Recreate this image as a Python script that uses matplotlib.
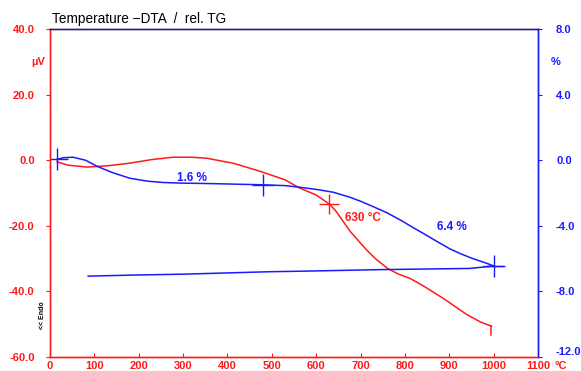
import numpy as np
import matplotlib
matplotlib.use("Agg")
import matplotlib.pyplot as plt

plt.rcParams["font.family"] = ["Liberation Sans", "DejaVu Sans"]

RED = "#ff1a1a"
BLUE = "#1a1aff"
NAVY = "#22227a"

# DTA heating curve (temperature in °C, signal in µV)
dta_t = [16, 40, 83, 130, 180, 230, 277, 320, 353, 412, 473, 530, 563, 600, 630,
         645, 676, 700, 714, 735, 761, 785, 811, 840, 885, 939, 970, 995]
dta_uv = [-0.5, -1.5, -2.1, -1.7, -0.9, 0.2, 0.9, 0.9, 0.6, -0.9, -3.35, -6.0, -8.5,
          -10.6, -13.4, -15.6, -21.6, -25.3, -27.4, -30.2, -33.0, -34.7, -36.0,
          -38.2, -42.0, -47.0, -49.3, -50.6]

# TG heating curve (temperature in °C, mass change in %)
tg_t = [16, 30, 52, 80, 106, 140, 180, 220, 255, 300, 350, 400, 480, 530, 563,
        600, 638, 675, 700, 730, 759, 790, 818, 850, 875, 901, 925, 953, 975, 991,
        1000]
tg_pct = [0.05, 0.15, 0.18, 0.0, -0.37, -0.75, -1.1, -1.28, -1.36, -1.40, -1.42,
          -1.45, -1.5, -1.55, -1.65, -1.78, -1.95, -2.25, -2.5, -2.85, -3.2, -3.65,
          -4.1, -4.6, -5.0, -5.4, -5.7, -6.0, -6.2, -6.35, -6.45]

# TG cooling curve
cool_t = [86, 195, 300, 495, 563, 750, 946, 975, 1000]
cool_pct = [-7.07, -7.0, -6.95, -6.8, -6.77, -6.67, -6.6, -6.52, -6.45]

# evaluation markers
tg_marks_t = [16, 480, 1000]
tg_marks_pct = [0.05, -1.5, -6.45]
dta_peak_t = 630
dta_peak_uv = -13.4

fig = plt.figure(figsize=(5.81, 3.71), dpi=100)
ax = fig.add_axes([50 / 581, 14 / 371, 488 / 581, 328 / 371])
ax2 = ax.twinx()

ax.plot(dta_t, dta_uv, color=RED, lw=1.1)
ax.plot([dta_t[-1], dta_t[-1]], [dta_uv[-1], -53.2], color=RED, lw=1.1)
ax.plot(dta_peak_t, dta_peak_uv, marker="+", ms=15, mew=1.0, color=RED)
ax.text(665, -17.7, "630 °C", color=RED, fontsize=8.5, fontweight="bold",
        va="center")

ax2.plot(tg_t, tg_pct, color=BLUE, lw=1.1)
ax2.plot(cool_t, cool_pct, color=BLUE, lw=1.1)
ax2.plot(tg_marks_t, tg_marks_pct, ls="none", marker="+", ms=16, mew=1.0, color=BLUE)
ax2.plot([985, 1020], [-6.45, -6.45], color=BLUE, lw=1.0)
ax2.text(320, -1.1, "1.6 %", color=BLUE, fontsize=8.5, fontweight="bold",
         ha="center", va="center")
ax2.text(906, -4.08, "6.4 %", color=BLUE, fontsize=8.5, fontweight="bold",
         ha="center", va="center")

ax.set_xlim(0, 1100)
ax.set_ylim(-60, 40)
ax2.set_ylim(-12, 8)
ax.set_xticks(range(0, 1101, 100))
ax.set_yticks(range(-60, 41, 20))
ax2.set_yticks(range(-12, 9, 4))
ax.set_yticklabels([f"{v:.1f}" for v in range(-60, 41, 20)])
ax2.set_yticklabels([f"{v:.1f}" for v in range(-12, 9, 4)])

for a in (ax, ax2):
    for s in a.spines.values():
        s.set_linewidth(1.0)
    a.spines["left"].set_color(RED)
    a.spines["bottom"].set_color(RED)
    a.spines["right"].set_color(BLUE)
    a.spines["top"].set_color(NAVY)

ax.tick_params(axis="x", colors=RED, direction="in", length=3, labelsize=8, pad=3)
ax.tick_params(axis="y", colors=RED, direction="out", length=3, labelsize=8, pad=8)
ax2.tick_params(axis="y", colors=BLUE, direction="out", length=3, labelsize=8, pad=10)
for lbl in ax.get_xticklabels() + ax.get_yticklabels() + ax2.get_yticklabels():
    lbl.set_fontweight("bold")
ax2.get_yticklabels()[0].set_va("bottom")

fig.text(38 / 581, 1 - 62 / 371, "µV", color=RED, fontsize=8, fontweight="bold",
         ha="center", va="center")
fig.text(556 / 581, 1 - 62 / 371, "%", color=BLUE, fontsize=8, fontweight="bold",
         ha="center", va="center")
fig.text(561 / 581, 1 - 366 / 371, "°C", color=RED, fontsize=8, fontweight="bold",
         ha="center", va="center")
fig.text(52 / 581, 1 - 19 / 371, "Temperature \u2212DTA  /  rel. TG", color="black",
         fontsize=9.8, ha="left", va="center")
fig.text(43 / 581, 1 - 315 / 371, "<< Endo", color="black", fontsize=5,
         fontweight="bold", rotation=90, ha="center", va="center")

fig.savefig("out.png", dpi=100, facecolor="white")
